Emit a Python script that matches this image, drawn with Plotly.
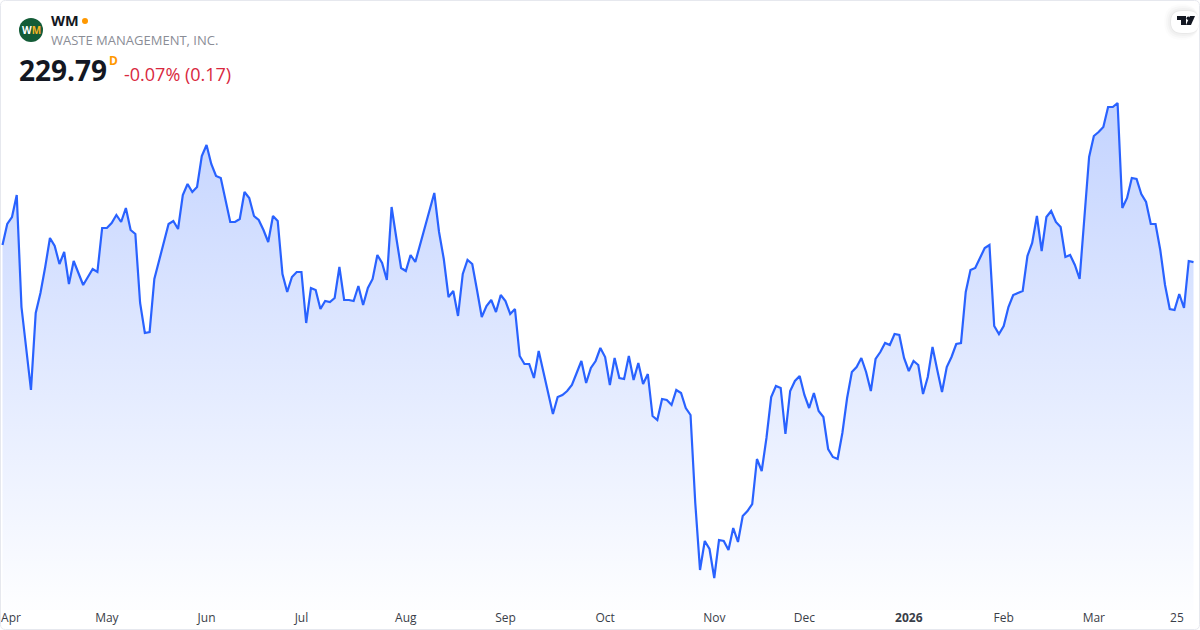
import plotly.graph_objects as go

# closing prices
prices = [
    231.5, 233.6, 234.3, 236.5, 225.3, 221.0, 217.0, 224.7, 226.7, 229.3, 232.2, 231.4, 229.6, 230.8, 227.6, 229.9,
    228.7, 227.5, 228.3, 229.1, 228.8, 233.2, 233.2, 233.7, 234.5, 233.8, 235.2, 233.0, 232.6, 225.7, 222.7, 222.8,
    228.1, 230.0, 231.8, 233.6, 233.9, 233.1, 236.5, 237.6, 236.8, 237.3, 240.4, 241.5, 239.6, 238.4, 238.2, 236.0,
    233.8, 233.8, 234.1, 236.8, 236.2, 234.4, 234.0, 233.0, 231.8, 234.4, 233.9, 228.6, 226.8, 228.3, 228.8, 228.8,
    223.7, 227.2, 227.0, 225.1, 225.9, 225.8, 226.2, 229.3, 226.0, 226.0, 225.9, 227.4, 225.5, 227.2, 228.1, 230.5,
    229.7, 228.0, 235.3, 232.2, 229.2, 228.9, 230.5, 229.8, 231.5, 233.1, 234.8, 236.7, 232.8, 230.1, 226.3, 226.9,
    224.4, 228.6, 230.0, 229.6, 227.0, 224.3, 225.4, 226.0, 224.8, 226.5, 225.9, 224.6, 225.1, 220.4, 219.6, 219.6,
    218.2, 220.9, 218.8, 216.7, 214.6, 216.3, 216.5, 216.9, 217.5, 218.7, 219.9, 217.7, 219.2, 219.9, 221.2, 220.3,
    217.5, 220.2, 218.2, 218.1, 220.4, 218.0, 219.7, 217.6, 218.6, 214.4, 214.0, 216.1, 216.0, 215.5, 217.0, 216.7,
    215.2, 214.5, 205.7, 199.0, 201.9, 201.1, 198.2, 202.0, 201.9, 201.0, 203.2, 201.8, 204.4, 204.9, 205.6, 210.1,
    208.9, 212.2, 216.3, 217.4, 217.2, 212.6, 216.9, 217.9, 218.4, 216.5, 215.2, 216.7, 214.9, 214.3, 211.1, 210.3,
    210.1, 212.7, 216.2, 218.8, 219.3, 220.2, 218.8, 216.9, 220.1, 220.8, 221.7, 221.5, 222.6, 222.5, 220.2, 218.9,
    219.9, 219.5, 216.6, 218.3, 221.3, 219.0, 216.8, 219.3, 220.3, 221.6, 221.7, 226.8, 229.0, 229.2, 230.2, 231.2,
    231.5, 223.4, 222.6, 223.4, 225.3, 226.5, 226.7, 226.9, 230.4, 231.7, 234.4, 230.9, 234.3, 234.9, 233.8, 233.3,
    230.3, 230.5, 229.5, 228.1, 234.2, 240.3, 242.4, 242.8, 243.3, 245.3, 245.3, 245.7, 235.2, 236.2, 238.2, 238.1,
    236.6, 235.8, 233.6, 233.6, 231.0, 227.5, 225.1, 225.0, 226.6, 225.2, 229.9, 229.79,
]
days = list(range(len(prices)))

tick_days = [1.8, 22, 43, 63, 85, 106, 127, 150, 169, 191, 211, 230, 247.5]
tick_labels = ["Apr", "May", "Jun", "Jul", "Aug", "Sep", "Oct", "Nov", "Dec", "<b>2026</b>", "Feb", "Mar", "25"]

W, H = 1200, 630
PLOT_H = 610
FONT = "Open Sans"


# pixels of the picture -> paper coordinates
def px(x):
    return x / W


def py(y):
    return 1 - y / PLOT_H


def rect_path(x0, y0, x1, y1, r):
    return (
        f"M {px(x0 + r)} {py(y0)} L {px(x1 - r)} {py(y0)} Q {px(x1)} {py(y0)} {px(x1)} {py(y0 + r)} "
        f"L {px(x1)} {py(y1 - r)} Q {px(x1)} {py(y1)} {px(x1 - r)} {py(y1)} "
        f"L {px(x0 + r)} {py(y1)} Q {px(x0)} {py(y1)} {px(x0)} {py(y1 - r)} "
        f"L {px(x0)} {py(y0 + r)} Q {px(x0)} {py(y0)} {px(x0 + r)} {py(y0)} Z"
    )


def poly_path(points):
    return "M " + " L ".join(f"{px(x)} {py(y)}" for x, y in points) + " Z"


fig = go.Figure(
    go.Scatter(
        x=days,
        y=prices,
        mode="lines",
        line=dict(color="#2962FF", width=2.2),
        fill="tozeroy",
        fillgradient=dict(
            type="vertical",
            start=246,
            stop=195.5,
            colorscale=[[0, "rgba(41,98,255,0.28)"], [1, "rgba(41,98,255,0.01)"]],
        ),
        hoverinfo="skip",
    )
)

shapes = []
# card border
shapes.append(dict(type="path", xref="paper", yref="paper", path=rect_path(0.5, 0.5, 1199.5, 629.5, 5),
                   line=dict(color="#E6E8EE", width=1), fillcolor="rgba(0,0,0,0)"))
# logo
shapes.append(dict(type="circle", xref="paper", yref="paper", x0=px(19), x1=px(43), y0=py(42), y1=py(18),
                   line=dict(width=0), fillcolor="#135C37"))
# market status dot
shapes.append(dict(type="circle", xref="paper", yref="paper", x0=px(82), x1=px(88), y0=py(24), y1=py(18),
                   line=dict(width=0), fillcolor="#FF9800"))
# tradingview badge, soft shadow then white tab
for grow, alpha in [(7, 0.012), (5, 0.018), (3, 0.025), (1, 0.035)]:
    shapes.append(dict(type="path", xref="paper", yref="paper",
                       path=rect_path(1171 - grow, 11 - grow, 1199, 33 + grow, 11 + grow),
                       line=dict(width=0), fillcolor=f"rgba(0,0,0,{alpha})"))
shapes.append(dict(type="path", xref="paper", yref="paper", path=rect_path(1171, 11, 1199, 33, 11),
                   line=dict(width=0), fillcolor="#FFFFFF"))
shapes.append(dict(type="path", xref="paper", yref="paper",
                   path=poly_path([(1177, 16), (1186, 16), (1186, 25), (1181, 25), (1181, 20), (1177, 20)]),
                   line=dict(width=0), fillcolor="#131722"))
shapes.append(dict(type="path", xref="paper", yref="paper",
                   path=poly_path([(1190, 16), (1195, 16), (1191, 25), (1186, 25)]),
                   line=dict(width=0), fillcolor="#131722"))
shapes.append(dict(type="circle", xref="paper", yref="paper", x0=px(1186.5), x1=px(1190), y0=py(20), y1=py(16.5),
                   line=dict(width=0), fillcolor="#131722"))


def label(x, y, text, size, color, anchor="left"):
    return dict(xref="paper", yref="paper", x=px(x), y=py(y), text=text, showarrow=False, xanchor=anchor,
                yanchor="middle", font=dict(family=FONT, size=size, color=color))


annotations = [
    label(31, 30, "<b>W<span style='color:#F5B324'>M</span></b>", 10, "#FFFFFF", "center"),
    label(49, 20, "<b>WM</b>", 14.5, "#131722"),
    label(49, 40, "WASTE MANAGEMENT, INC.", 13, "#8A8D96"),
    label(17, 70, "<b>229.79</b>", 28, "#131722"),
    label(107, 61, "<b>D</b>", 12, "#FF9800"),
    label(122, 74, "-0.07% (0.17)", 18, "#D9283E"),
]

fig.update_layout(
    width=W,
    height=H,
    margin=dict(l=0, r=0, t=0, b=H - PLOT_H),
    paper_bgcolor="white",
    plot_bgcolor="white",
    showlegend=False,
    shapes=shapes,
    annotations=annotations,
    xaxis=dict(
        range=[-0.527, 252.37],
        tickmode="array",
        tickvals=tick_days,
        ticktext=tick_labels,
        ticks="",
        showgrid=False,
        zeroline=False,
        showline=False,
        tickangle=0,
        ticklabelstandoff=-1,
        tickfont=dict(family=FONT, size=12, color="#3A3E48"),
    ),
    yaxis=dict(range=[195, 256], visible=False),
)

fig.write_html("out.html", config=dict(displayModeBar=False),
               post_script="document.body.style.margin='0';document.body.style.overflow='hidden';")
